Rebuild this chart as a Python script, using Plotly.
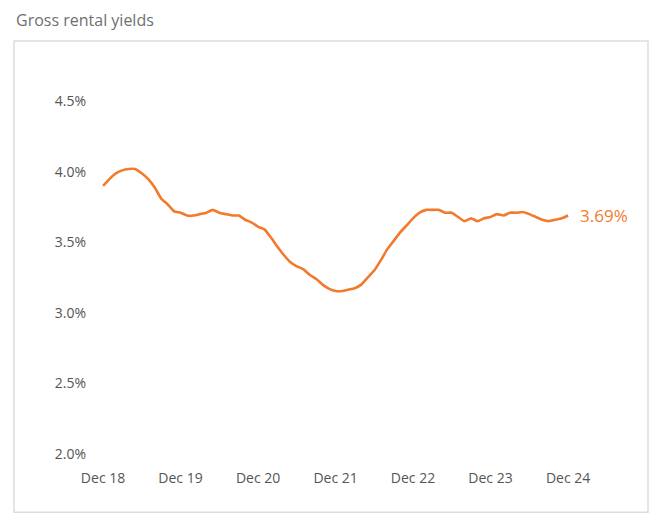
import pandas as pd
import plotly.graph_objects as go

# monthly gross rental yield (%), Dec 2018 -> Dec 2024
months = pd.date_range("2018-12-01", "2024-12-01", freq="MS")
yields = [
    3.90, 3.95, 3.99, 4.01, 4.02, 4.02, 3.99, 3.95, 3.89, 3.81, 3.77, 3.72,
    3.71, 3.69, 3.69, 3.70, 3.71, 3.73, 3.71, 3.70, 3.69, 3.69, 3.66, 3.64,
    3.61, 3.59, 3.53, 3.47, 3.41, 3.36, 3.33, 3.31, 3.27, 3.24, 3.20, 3.17,
    3.155, 3.155, 3.165, 3.175, 3.20, 3.25, 3.30, 3.37, 3.45, 3.51, 3.57, 3.62,
    3.67, 3.71, 3.73, 3.73, 3.73, 3.71, 3.71, 3.68, 3.65, 3.67, 3.65, 3.67,
    3.68, 3.70, 3.69, 3.71, 3.71, 3.715, 3.70, 3.68, 3.66, 3.65, 3.66, 3.67,
    3.69,
]
y_ticks = [2.0, 2.5, 3.0, 3.5, 4.0, 4.5]
last_label = "3.69%"

ORANGE = "#F27A2C"
FONT = "Open Sans"

fig = go.Figure()
fig.add_trace(go.Scatter(
    x=months, y=yields, mode="lines",
    line=dict(color=ORANGE, width=2.6, shape="spline", smoothing=0.4),
    hoverinfo="skip",
))

# value label at the end of the line
fig.add_annotation(
    x=months[-1], y=yields[-1], text=last_label, showarrow=False,
    xanchor="left", xshift=10, font=dict(color=ORANGE, size=17, family=FONT),
)

# page body has an 8px margin, so work in shifted coordinates
W, H = 649, 523
L, R, T, B = 87, 572, 58, 459.7
pw, ph = R - L, B - T

# outer card border
fig.add_shape(
    type="rect", xref="paper", yref="paper",
    x0=(6 - L) / pw, x1=(640 - L) / pw,
    y0=(B - 504) / ph, y1=(B - 33) / ph,
    line=dict(color="#DDDDDD", width=1.5), fillcolor="rgba(0,0,0,0)",
)

fig.update_layout(
    width=W, height=H,
    margin=dict(l=L, r=W - R, t=T, b=H - B),
    paper_bgcolor="white", plot_bgcolor="white",
    showlegend=False,
    font=dict(family=FONT, color="#555555", size=14),
    title=dict(
        text="Gross rental yields", xref="container", yref="container",
        x=8 / W, xanchor="left", y=1 - 12 / H, yanchor="middle",
        font=dict(size=16, color="#707070", family=FONT),
    ),
)
fig.update_xaxes(
    range=["2018-10-24", "2025-01-26"],
    tickformat="%b %y", dtick="M12", tick0="2018-12-01",
    showgrid=False, zeroline=False, showline=False, ticks="",
)
fig.update_yaxes(
    range=[1.9, 4.75], tickvals=y_ticks,
    ticktext=[f"{v:.1f}%" for v in y_ticks],
    showgrid=False, zeroline=False, showline=False, ticks="",
    ticklabelstandoff=8,
)

fig.write_html("out.html")
